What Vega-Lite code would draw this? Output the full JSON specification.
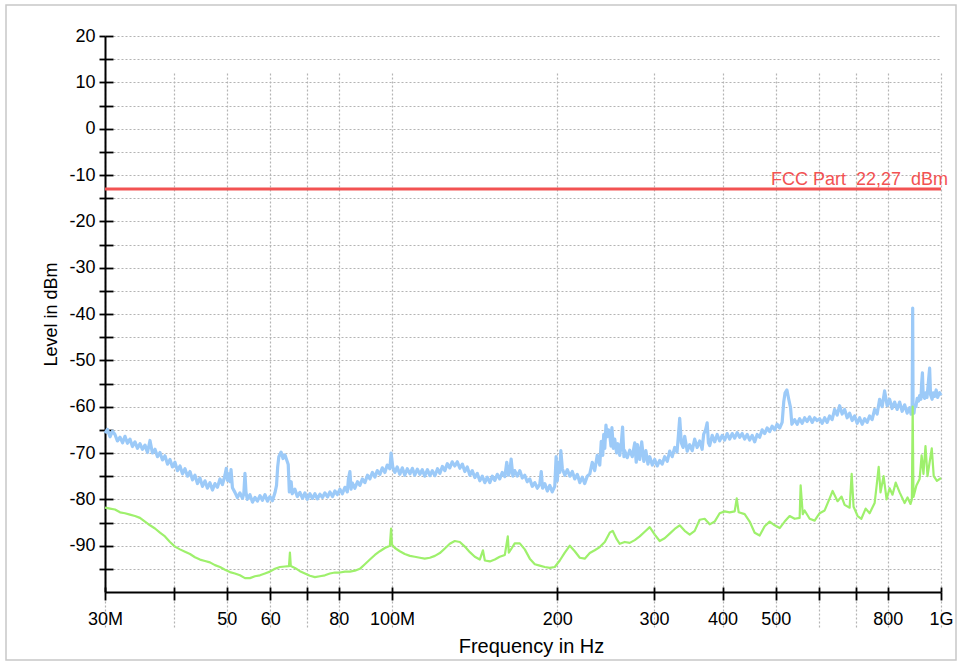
{
  "$schema": "https://vega.github.io/schema/vega-lite/v6.json",
  "width": 950,
  "height": 655,
  "autosize": {"type": "none"},
  "padding": {"left": 6, "top": 5, "right": 6, "bottom": 2},
  "background": "white",
  "config": {
    "font": "Liberation Sans",
    "view": {"stroke": "#c8c8c8", "strokeWidth": 1.5}
  },
  "datasets": {
    "peak": [
      {"f":30,"l":-65.7},{"f":30.3,"l":-64.9},{"f":30.64,"l":-66.5},{"f":30.96,"l":-65.3},{"f":31.28,"l":-66},{"f":31.6,"l":-67.4},{"f":31.95,"l":-66.6},{"f":32.3,"l":-67.8},{"f":32.62,"l":-66.4},{"f":32.96,"l":-67.9},
      {"f":33.31,"l":-67},{"f":33.66,"l":-68.6},{"f":34.02,"l":-67.6},{"f":34.38,"l":-69},{"f":34.74,"l":-68},{"f":35.1,"l":-69.2},{"f":35.48,"l":-68.3},{"f":35.85,"l":-69.9},{"f":36.23,"l":-67.3},{"f":36.6,"l":-70},
      {"f":37,"l":-69.2},{"f":37.39,"l":-70.8},{"f":37.78,"l":-69.9},{"f":38.18,"l":-71.5},{"f":38.58,"l":-70.6},{"f":38.99,"l":-72.4},{"f":39.4,"l":-71.4},{"f":39.81,"l":-73},{"f":40.23,"l":-72},{"f":40.65,"l":-73.8},
      {"f":41.09,"l":-72.8},{"f":41.52,"l":-74.5},{"f":41.96,"l":-73.4},{"f":42.4,"l":-75},{"f":42.85,"l":-74},{"f":43.3,"l":-75.8},{"f":43.75,"l":-74.8},{"f":44.21,"l":-76.6},{"f":44.68,"l":-75.4},{"f":45.15,"l":-77.2},
      {"f":45.63,"l":-76},{"f":46.1,"l":-77.6},{"f":46.59,"l":-76.4},{"f":47.08,"l":-78},{"f":47.58,"l":-76.6},{"f":48.08,"l":-77.4},{"f":48.59,"l":-75.6},{"f":49.1,"l":-76.8},{"f":49.62,"l":-74.8},{"f":49.9,"l":-73.3},
      {"f":50.14,"l":-75.9},{"f":50.4,"l":-74.5},{"f":50.67,"l":-76.2},{"f":50.9,"l":-73.6},{"f":51.2,"l":-77.5},{"f":51.74,"l":-78.5},{"f":52.28,"l":-79.6},{"f":52.84,"l":-78.6},{"f":53.4,"l":-79.8},{"f":53.7,"l":-78.8},
      {"f":53.96,"l":-74.4},{"f":54.2,"l":-78.5},{"f":54.5,"l":-80},{"f":55.1,"l":-79},{"f":55.68,"l":-80.6},{"f":56.27,"l":-79.6},{"f":56.86,"l":-80.4},{"f":57.46,"l":-79.2},{"f":58.06,"l":-80.2},{"f":58.68,"l":-79},
      {"f":59.3,"l":-80.4},{"f":59.92,"l":-79.4},{"f":60.55,"l":-80.3},{"f":61.19,"l":-78.6},{"f":61.6,"l":-77},{"f":61.9,"l":-73},{"f":62.2,"l":-70.8},{"f":62.8,"l":-69.8},{"f":63.3,"l":-71.2},{"f":63.81,"l":-70.4},
      {"f":64.4,"l":-71.8},{"f":64.7,"l":-72.5},{"f":65,"l":-78.4},{"f":65.5,"l":-76.2},{"f":65.8,"l":-78.8},{"f":66.54,"l":-77.8},{"f":67.2,"l":-79.4},{"f":67.95,"l":-78.5},{"f":68.7,"l":-79.8},{"f":69.39,"l":-78.6},
      {"f":70.1,"l":-80},{"f":70.86,"l":-78.8},{"f":71.6,"l":-79.8},{"f":72.36,"l":-78.8},{"f":73.1,"l":-79.9},{"f":73.89,"l":-78.9},{"f":74.7,"l":-79.6},{"f":75.46,"l":-78.6},{"f":76.3,"l":-79.5},{"f":77.06,"l":-78.4},
      {"f":77.9,"l":-79.4},{"f":78.69,"l":-78.2},{"f":79.5,"l":-79},{"f":80.36,"l":-77.8},{"f":81.2,"l":-78.8},{"f":82.06,"l":-77.4},{"f":82.9,"l":-78.4},{"f":83.3,"l":-75.5},{"f":83.8,"l":-74},{"f":84.2,"l":-77.8},
      {"f":84.7,"l":-76.5},{"f":85.57,"l":-77.6},{"f":86.5,"l":-76.2},{"f":87.38,"l":-77},{"f":88.3,"l":-75.6},{"f":89.23,"l":-76.4},{"f":90.2,"l":-74.8},{"f":91.12,"l":-75.6},{"f":92.1,"l":-74.2},{"f":93.05,"l":-75.2},
      {"f":94,"l":-73.8},{"f":95.02,"l":-74.6},{"f":96,"l":-73.2},{"f":97.04,"l":-74.2},{"f":98,"l":-72.6},{"f":99.09,"l":-73.4},{"f":99.6,"l":-70},{"f":100.3,"l":-73},{"f":101.2,"l":-74.2},{"f":102.2,"l":-73},
      {"f":103.3,"l":-74.6},{"f":104.4,"l":-73.2},{"f":105.5,"l":-74.8},{"f":106.6,"l":-73.4},{"f":107.8,"l":-74.5},{"f":108.9,"l":-73.3},{"f":110,"l":-74.8},{"f":111.2,"l":-73.5},{"f":112.4,"l":-74.6},{"f":113.5,"l":-73.6},
      {"f":114.7,"l":-75},{"f":116,"l":-73.6},{"f":117.2,"l":-74.9},{"f":118.4,"l":-73.8},{"f":119.7,"l":-74.9},{"f":121,"l":-73.4},{"f":122.2,"l":-74.4},{"f":123.5,"l":-72.9},{"f":124.8,"l":-73.8},{"f":126.1,"l":-72.3},
      {"f":127.4,"l":-73.2},{"f":128.7,"l":-71.9},{"f":130.1,"l":-72.8},{"f":131.5,"l":-71.9},{"f":132.9,"l":-73.3},{"f":134.3,"l":-72.4},{"f":135.7,"l":-74},{"f":137.1,"l":-73},{"f":138.6,"l":-74.8},{"f":140,"l":-73.8},
      {"f":141.5,"l":-75.3},{"f":143,"l":-74.4},{"f":144.5,"l":-76},{"f":146,"l":-75},{"f":147.6,"l":-76.4},{"f":149.1,"l":-75.2},{"f":150.7,"l":-76.4},{"f":152.3,"l":-75},{"f":153.9,"l":-75.9},{"f":155.5,"l":-74.6},
      {"f":157.1,"l":-75.6},{"f":158.8,"l":-74.2},{"f":160.5,"l":-75.1},{"f":161.8,"l":-72},{"f":163,"l":-74.8},{"f":163.9,"l":-74},{"f":164.8,"l":-71.3},{"f":166,"l":-75},{"f":167.3,"l":-73.8},{"f":169.1,"l":-75},
      {"f":170.9,"l":-73.8},{"f":172.7,"l":-75.4},{"f":174.5,"l":-74.8},{"f":176.3,"l":-76.2},{"f":178.2,"l":-75.6},{"f":180.1,"l":-77.2},{"f":182,"l":-76.4},{"f":183.9,"l":-77.6},{"f":185.8,"l":-76.8},{"f":187,"l":-74},
      {"f":188,"l":-77.6},{"f":189.8,"l":-76.6},{"f":191.8,"l":-78.2},{"f":193.8,"l":-77},{"f":195.8,"l":-78.4},{"f":197.9,"l":-77.2},{"f":199,"l":-70.8},{"f":200,"l":-76},{"f":201,"l":-72},{"f":202.1,"l":-74.2},
      {"f":203,"l":-69.5},{"f":204.3,"l":-73.4},{"f":206.4,"l":-74.8},{"f":208.6,"l":-73.6},{"f":210.8,"l":-75},{"f":213,"l":-74},{"f":215.2,"l":-75.6},{"f":217.5,"l":-74.6},{"f":219.8,"l":-76.4},{"f":222.1,"l":-75.2},
      {"f":224.4,"l":-76.6},{"f":226.8,"l":-75},{"f":229.2,"l":-74.5},{"f":231.6,"l":-72},{"f":234,"l":-73.8},{"f":236.5,"l":-70.5},{"f":239,"l":-72.6},{"f":240.5,"l":-67.5},{"f":242,"l":-70.5},{"f":243,"l":-66},
      {"f":244.1,"l":-69},{"f":245.3,"l":-64},{"f":246.5,"l":-66.5},{"f":248,"l":-65},{"f":249.2,"l":-66},{"f":250.5,"l":-68.5},{"f":251.5,"l":-64.5},{"f":253,"l":-69},{"f":254.5,"l":-67},{"f":256.5,"l":-70},
      {"f":258,"l":-68},{"f":259.9,"l":-70.5},{"f":261.5,"l":-68.2},{"f":263,"l":-64.4},{"f":264.5,"l":-70.8},{"f":265.4,"l":-69.5},{"f":268.2,"l":-71},{"f":271,"l":-69.4},{"f":273.9,"l":-70.8},{"f":276.8,"l":-67.8},
      {"f":278.5,"l":-72},{"f":280,"l":-68.2},{"f":282.6,"l":-71.4},{"f":285,"l":-67.6},{"f":287.5,"l":-71.8},{"f":290,"l":-69.5},{"f":292.5,"l":-72.4},{"f":294.7,"l":-70.8},{"f":297.9,"l":-72.6},{"f":301,"l":-71.4},
      {"f":304.1,"l":-72.8},{"f":307.3,"l":-71.6},{"f":310.5,"l":-72.4},{"f":313.8,"l":-70.8},{"f":317.2,"l":-71.8},{"f":320.5,"l":-69.6},{"f":323.9,"l":-70.8},{"f":327.3,"l":-68.8},{"f":330.5,"l":-69.8},{"f":332.5,"l":-66},
      {"f":334.2,"l":-62.5},{"f":336.5,"l":-67.8},{"f":339,"l":-68.8},{"f":341.3,"l":-66.4},{"f":344.9,"l":-69.6},{"f":348.5,"l":-68.2},{"f":352.2,"l":-69.5},{"f":355.9,"l":-67},{"f":359.6,"l":-68.8},{"f":363.4,"l":-67.4},
      {"f":367.2,"l":-69.2},{"f":369.5,"l":-66},{"f":372.5,"l":-65},{"f":375,"l":-63.5},{"f":377,"l":-67.8},{"f":379,"l":-68.4},{"f":383,"l":-66.2},{"f":387,"l":-67.6},{"f":391.1,"l":-66},{"f":395.2,"l":-67.4},
      {"f":399.4,"l":-66.2},{"f":403.6,"l":-67.2},{"f":407.8,"l":-65.8},{"f":412.1,"l":-67},{"f":416.5,"l":-65.8},{"f":420.9,"l":-66.8},{"f":425.3,"l":-65.6},{"f":429.8,"l":-66.6},{"f":434.3,"l":-65.8},{"f":438.9,"l":-67},
      {"f":443.5,"l":-66},{"f":448.2,"l":-67.2},{"f":452.9,"l":-66.2},{"f":457.7,"l":-67.6},{"f":462.5,"l":-66},{"f":467.4,"l":-66.6},{"f":472.3,"l":-65},{"f":477.3,"l":-65.8},{"f":482.3,"l":-64.6},{"f":487.4,"l":-65.4},
      {"f":492.5,"l":-64.2},{"f":497.7,"l":-65},{"f":502.9,"l":-63.8},{"f":508.3,"l":-64.6},{"f":513.6,"l":-63.4},{"f":517,"l":-59},{"f":520,"l":-57},{"f":524,"l":-56.4},{"f":528,"l":-58.4},{"f":532,"l":-60.2},
      {"f":535,"l":-63.8},{"f":541.3,"l":-62.8},{"f":547,"l":-63.8},{"f":552.7,"l":-62.6},{"f":558.5,"l":-63.6},{"f":564.4,"l":-62.4},{"f":570.4,"l":-63.2},{"f":576.4,"l":-62.2},{"f":582.5,"l":-63.4},{"f":588.6,"l":-62.4},
      {"f":594.8,"l":-63},{"f":601.1,"l":-62.6},{"f":607.4,"l":-63.6},{"f":613.8,"l":-62.4},{"f":620.3,"l":-63.4},{"f":626.8,"l":-62},{"f":633.4,"l":-62.8},{"f":640.1,"l":-60.6},{"f":646.9,"l":-61.8},{"f":653.7,"l":-59.8},
      {"f":660.6,"l":-61.6},{"f":667.5,"l":-60.6},{"f":674.6,"l":-62.4},{"f":681.7,"l":-61.4},{"f":688.9,"l":-63},{"f":696.1,"l":-62},{"f":703.5,"l":-63.6},{"f":710.9,"l":-62.4},{"f":718.4,"l":-63.8},{"f":725.9,"l":-62.6},
      {"f":733.6,"l":-63.4},{"f":741.3,"l":-62},{"f":749.1,"l":-62.8},{"f":757,"l":-60.6},{"f":765,"l":-61.6},{"f":773,"l":-58.4},{"f":781.2,"l":-60},{"f":789.4,"l":-56.6},{"f":797.8,"l":-59.8},{"f":806.1,"l":-58.4},
      {"f":814.6,"l":-60.4},{"f":823.2,"l":-59},{"f":831.9,"l":-60.6},{"f":840.7,"l":-59},{"f":849.5,"l":-61},{"f":858.5,"l":-59.6},{"f":867.6,"l":-61.4},{"f":876.7,"l":-60.2},{"f":882,"l":-61.6},{"f":886,"l":-60.6},
      {"f":888,"l":-38.7},{"f":889.5,"l":-60.8},{"f":893,"l":-61.4},{"f":895.2,"l":-60},{"f":900,"l":-60},{"f":905,"l":-58.2},{"f":910,"l":-58.8},{"f":914.2,"l":-57.6},{"f":919,"l":-58.4},{"f":922,"l":-55},
      {"f":925,"l":-52.7},{"f":928,"l":-57.6},{"f":933.6,"l":-58.2},{"f":938,"l":-57},{"f":943,"l":-58},{"f":948,"l":-55},{"f":953.4,"l":-51.7},{"f":957,"l":-57.4},{"f":963.4,"l":-58.4},{"f":968,"l":-57},
      {"f":973.6,"l":-57.8},{"f":980,"l":-56.4},{"f":986,"l":-58},{"f":994.2,"l":-57},{"f":1000,"l":-57.6}
    ],
    "avg": [
      {"f":30,"l":-81.8},{"f":30.64,"l":-82},{"f":31.28,"l":-82.2},{"f":31.95,"l":-82.8},{"f":32.62,"l":-83},{"f":33.31,"l":-83.3},{"f":34.02,"l":-83.6},{"f":34.74,"l":-84},{"f":35.48,"l":-84.8},{"f":36.23,"l":-85.6},
      {"f":37,"l":-86.3},{"f":37.78,"l":-87.2},{"f":38.58,"l":-88},{"f":39.4,"l":-89.2},{"f":40.23,"l":-90.2},{"f":41.09,"l":-90.8},{"f":41.96,"l":-91.3},{"f":42.85,"l":-91.8},{"f":43.75,"l":-92.5},{"f":44.68,"l":-93},
      {"f":45.63,"l":-93.3},{"f":46.59,"l":-93.6},{"f":47.58,"l":-94.2},{"f":48.59,"l":-94.6},{"f":49.62,"l":-95.2},{"f":50.67,"l":-95.7},{"f":51.74,"l":-96},{"f":52.84,"l":-96.4},{"f":53.96,"l":-97},{"f":55.1,"l":-97},
      {"f":56.27,"l":-96.6},{"f":57.46,"l":-96.4},{"f":58.68,"l":-96},{"f":59.92,"l":-95.6},{"f":61.19,"l":-95},{"f":62.49,"l":-94.6},{"f":63.81,"l":-94.5},{"f":64.9,"l":-94.4},{"f":65.16,"l":-91.5},{"f":65.4,"l":-94.4},
      {"f":66.54,"l":-94.8},{"f":67.95,"l":-95.5},{"f":69.39,"l":-96},{"f":70.86,"l":-96.5},{"f":72.36,"l":-96.8},{"f":73.89,"l":-96.6},{"f":75.46,"l":-96.4},{"f":77.06,"l":-96},{"f":78.69,"l":-95.8},{"f":80.36,"l":-95.8},
      {"f":82.06,"l":-95.6},{"f":83.8,"l":-95.6},{"f":85.57,"l":-95.4},{"f":87.38,"l":-95},{"f":89.23,"l":-94},{"f":91.12,"l":-93},{"f":93.05,"l":-92},{"f":95.02,"l":-91.2},{"f":97.04,"l":-90.5},{"f":99.09,"l":-90},
      {"f":99.6,"l":-86.3},{"f":100,"l":-89.8},{"f":101.2,"l":-90.5},{"f":103.3,"l":-91.2},{"f":105.5,"l":-91.8},{"f":107.8,"l":-92.2},{"f":110,"l":-92.4},{"f":112.4,"l":-92.6},{"f":114.7,"l":-92.8},{"f":117.2,"l":-92.6},
      {"f":119.7,"l":-92.2},{"f":122.2,"l":-91.6},{"f":124.8,"l":-90.6},{"f":127.4,"l":-89.6},{"f":130.1,"l":-89},{"f":132.9,"l":-89.2},{"f":135.7,"l":-90.2},{"f":138.6,"l":-91.4},{"f":141.5,"l":-92.4},{"f":144.5,"l":-93},
      {"f":146.4,"l":-91},{"f":147.6,"l":-93.2},{"f":150.7,"l":-93.4},{"f":153.9,"l":-93},{"f":157.1,"l":-92.4},{"f":160.5,"l":-92},{"f":162.5,"l":-88},{"f":163.2,"l":-91.5},{"f":165.3,"l":-90.5},{"f":167.3,"l":-89.5},
      {"f":170.9,"l":-89.5},{"f":174.5,"l":-90.8},{"f":178.2,"l":-92.8},{"f":182,"l":-94},{"f":185.8,"l":-94.3},{"f":189.8,"l":-94.6},{"f":193.8,"l":-94.8},{"f":197.9,"l":-94.6},{"f":202.1,"l":-93.2},{"f":206.4,"l":-91.5},
      {"f":210.8,"l":-90},{"f":215.2,"l":-91.2},{"f":219.8,"l":-92.6},{"f":224.4,"l":-92.8},{"f":229.2,"l":-91.6},{"f":234,"l":-91},{"f":239,"l":-90.3},{"f":244.1,"l":-89.2},{"f":249.2,"l":-87.2},{"f":252.3,"l":-86.8},
      {"f":256.6,"l":-88.6},{"f":259.9,"l":-89.6},{"f":265.4,"l":-89.2},{"f":271,"l":-89.4},{"f":276.8,"l":-88.8},{"f":282.6,"l":-88},{"f":288.6,"l":-87},{"f":294.7,"l":-86},{"f":301,"l":-87.6},{"f":307.3,"l":-89},
      {"f":313.8,"l":-88.4},{"f":320.5,"l":-87.4},{"f":327.3,"l":-86.4},{"f":334.2,"l":-85.6},{"f":341.3,"l":-86.8},{"f":348.5,"l":-87.6},{"f":355.9,"l":-86.8},{"f":363.4,"l":-84.4},{"f":371.1,"l":-84.2},{"f":379,"l":-85.4},
      {"f":387,"l":-84.8},{"f":395.2,"l":-83},{"f":403.6,"l":-82.6},{"f":412.1,"l":-82.8},{"f":420.9,"l":-82.6},{"f":424.5,"l":-79.8},{"f":428,"l":-82.8},{"f":438.9,"l":-83.2},{"f":448.2,"l":-84.8},{"f":457.7,"l":-87.2},
      {"f":467.4,"l":-87.8},{"f":477.3,"l":-85.8},{"f":487.4,"l":-84.8},{"f":497.7,"l":-85.6},{"f":508.3,"l":-86.2},{"f":519,"l":-84.8},{"f":530,"l":-83.6},{"f":541.3,"l":-84.2},{"f":552.7,"l":-84},{"f":555,"l":-77},
      {"f":560,"l":-83.2},{"f":564.4,"l":-82.4},{"f":576.4,"l":-84.2},{"f":588.6,"l":-84.6},{"f":601.1,"l":-83},{"f":613.8,"l":-82.4},{"f":626.8,"l":-79.8},{"f":634.7,"l":-78.2},{"f":648,"l":-80.4},{"f":659,"l":-79.4},
      {"f":667.5,"l":-81.2},{"f":681.7,"l":-81.8},{"f":687.5,"l":-74.5},{"f":693,"l":-81.6},{"f":705,"l":-83.6},{"f":716,"l":-84.2},{"f":729,"l":-82},{"f":741.3,"l":-83},{"f":757,"l":-80.8},{"f":763.5,"l":-77},
      {"f":770,"l":-73},{"f":776,"l":-78.5},{"f":786,"l":-75},{"f":796,"l":-80},{"f":806.1,"l":-77.6},{"f":816,"l":-79},{"f":827,"l":-76.4},{"f":840.7,"l":-78.5},{"f":858.5,"l":-80.8},{"f":869,"l":-79.6},
      {"f":880,"l":-81},{"f":885,"l":-80},{"f":888,"l":-60},{"f":891,"l":-79.5},{"f":902,"l":-77},{"f":914.2,"l":-75.6},{"f":922,"l":-70.5},{"f":929,"l":-74.5},{"f":937,"l":-68.5},{"f":945,"l":-75},
      {"f":953.4,"l":-72},{"f":962,"l":-69},{"f":970,"l":-75},{"f":983,"l":-76},{"f":1000,"l":-75.4}
    ]
  },
  "layer": [
    {
      "data": {"name": "peak"},
      "mark": {"type": "line", "color": "#9ccaf8", "strokeWidth": 3.2, "strokeJoin": "round"},
      "encoding": {
        "x": {
          "field": "f", "type": "quantitative",
          "scale": {"type": "log", "domain": [30, 1000], "range": [99, 935], "nice": false},
          "axis": {
            "orient": "bottom", "offset": -68,
            "values": [30, 40, 50, 60, 70, 80, 100, 200, 300, 400, 500, 600, 700, 800, 1000],
            "labelExpr": "datum.value == 30 ? '30M' : datum.value == 100 ? '100M' : datum.value == 1000 ? '1G' : indexof([50, 60, 80, 200, 300, 400, 500, 800], datum.value) >= 0 ? '' + datum.value : ''",
            "labelFontSize": 18, "labelColor": "#000", "labelPadding": 10, "labelOverlap": false, "labelBound": false, "labelFlush": false,
            "tickSize": 8, "tickColor": "#000", "tickWidth": 1.8,
            "domainColor": "#000", "domainWidth": 2,
            "grid": true, "gridColor": "#b4b4b4", "gridDash": [2, 2], "gridWidth": 1.2,
            "title": "Frequency in Hz", "titleFontSize": 20, "titleFontWeight": "normal", "titleColor": "#000", "titlePadding": 8, "titleX": 525
          }
        },
        "y": {
          "field": "l", "type": "quantitative",
          "scale": {"domain": [-100, 20], "range": [587, 31], "nice": false, "zero": false},
          "axis": {
            "orient": "left", "offset": -99,
            "values": [20, 15, 10, 5, 0, -5, -10, -15, -20, -25, -30, -35, -40, -45, -50, -55, -60, -65, -70, -75, -80, -85, -90, -95],
            "labelExpr": "datum.value % 10 == 0 ? '' + datum.value : ''",
            "labelFontSize": 18, "labelColor": "#000", "labelPadding": 4, "labelOverlap": false, "labelBound": false, "labelFlush": false,
            "tickSize": 6, "tickColor": "#000", "tickWidth": 1.8,
            "domainColor": "#000", "domainWidth": 2,
            "grid": true, "gridColor": "#b4b4b4", "gridDash": [2, 2], "gridWidth": 1.2,
            "title": "Level in dBm", "titleFontSize": 18, "titleFontWeight": "normal", "titleColor": "#000", "titlePadding": 8
          }
        }
      }
    },
    {
      "data": {"name": "avg"},
      "mark": {"type": "line", "color": "#9ef06c", "strokeWidth": 2.2, "strokeJoin": "round"},
      "encoding": {
        "x": {
          "field": "f", "type": "quantitative",
          "scale": {"type": "log", "domain": [30, 1000], "range": [99, 935], "nice": false},
          "axis": {
            "orient": "bottom", "offset": -68,
            "values": [30, 40, 50, 60, 70, 80, 100, 200, 300, 400, 500, 600, 700, 800, 1000],
            "labels": false, "domain": false, "grid": false, "title": null,
            "tickSize": -5, "tickColor": "#000", "tickWidth": 1.8
          }
        },
        "y": {
          "field": "l", "type": "quantitative",
          "scale": {"domain": [-100, 20], "range": [587, 31], "nice": false, "zero": false},
          "axis": {
            "orient": "left", "offset": -99,
            "values": [20, 15, 10, 5, 0, -5, -10, -15, -20, -25, -30, -35, -40, -45, -50, -55, -60, -65, -70, -75, -80, -85, -90, -95],
            "labels": false, "domain": false, "grid": false, "title": null,
            "tickSize": -8, "tickColor": "#000", "tickWidth": 1.8
          }
        }
      }
    },
    {
      "data": {"values": [{"f": 30, "f2": 1000, "l": -13}]},
      "mark": {"type": "rule", "color": "#f25252", "strokeWidth": 3},
      "encoding": {
        "x": {"field": "f", "type": "quantitative", "axis": null},
        "x2": {"field": "f2"},
        "y": {"field": "l", "type": "quantitative", "axis": null}
      }
    },
    {
      "data": {"values": [{"f": 1000, "l": -13, "t": "FCC Part\u00a0 22,27\u00a0 dBm"}]},
      "mark": {"type": "text", "align": "right", "baseline": "alphabetic", "dx": 7, "dy": -4, "fontSize": 18, "color": "#f25252"},
      "encoding": {
        "x": {"field": "f", "type": "quantitative", "axis": null},
        "y": {"field": "l", "type": "quantitative", "axis": null},
        "text": {"field": "t"}
      }
    }
  ],
  "resolve": {"axis": {"x": "independent", "y": "independent"}}
}
